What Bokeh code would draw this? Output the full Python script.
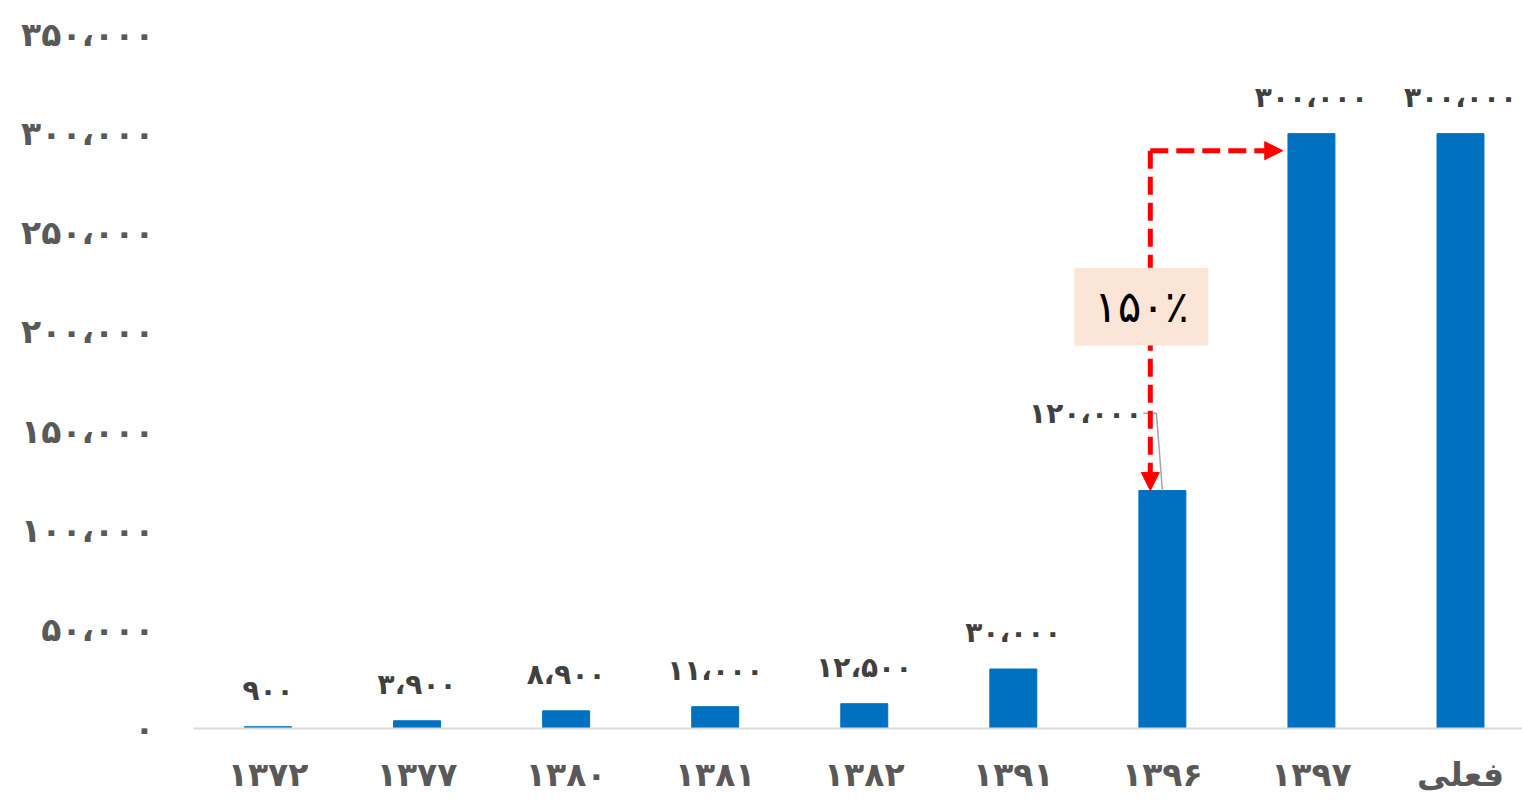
from bokeh.plotting import figure
from bokeh.models import Range1d, FixedTicker, Arrow, NormalHead, ColumnDataSource
from bokeh.core.properties import value
from bokeh.embed import file_html
from bokeh.resources import INLINE

categories = ["۱۳۷۲", "۱۳۷۷", "۱۳۸۰", "۱۳۸۱", "۱۳۸۲", "۱۳۹۱", "۱۳۹۶", "۱۳۹۷", "فعلی"]
values = [900, 3900, 8900, 11000, 12500, 30000, 120000, 300000, 300000]
y_ticks = [0, 50000, 100000, 150000, 200000, 250000, 300000, 350000]

FA_DIGITS = str.maketrans("0123456789", "۰۱۲۳۴۵۶۷۸۹")


def fa(n):
    return f"{n:,}".replace(",", "،").translate(FA_DIGITS)


FONT = "DejaVu Sans"
GREY = "#595959"
BAR = "#0070C0"

xs = list(range(len(categories)))
p = figure(width=1522, height=798,
           x_range=Range1d(-0.5, 8.416), y_range=Range1d(0, 350000),
           output_backend="svg", toolbar_location=None,
           min_border_left=193, min_border_right=0, min_border_top=34,
           min_border_bottom=70)
p.outline_line_color = None
p.grid.visible = False
p.background_fill_color = "white"

bw = 0.315
p.vbar(x=xs, top=values, width=bw, color=BAR)

# y axis
p.yaxis.ticker = FixedTicker(ticks=y_ticks)
p.yaxis.major_label_overrides = {t: fa(t) for t in y_ticks}
p.yaxis.axis_line_color = None
p.yaxis.major_tick_line_color = None
p.yaxis.minor_tick_line_color = None
p.yaxis.major_label_text_font = FONT
p.yaxis.major_label_text_font_style = "bold"
p.yaxis.major_label_text_font_size = "33px"
p.yaxis.major_label_text_color = GREY
p.yaxis.major_label_standoff = 33

# x axis
p.xaxis.ticker = FixedTicker(ticks=xs)
p.xaxis.major_label_overrides = {i: c for i, c in enumerate(categories)}
p.xaxis.axis_line_color = "#D9D9D9"
p.xaxis.axis_line_width = 2
p.xaxis.major_tick_line_color = None
p.xaxis.minor_tick_line_color = None
p.xaxis.major_label_text_font = FONT
p.xaxis.major_label_text_font_style = "bold"
p.xaxis.major_label_text_font_size = "33px"
p.xaxis.major_label_text_color = GREY
p.xaxis.major_label_standoff = 20

# data labels (all but the 1396 bar, which has a leader line)
i96 = categories.index("۱۳۹۶")
i97 = categories.index("۱۳۹۷")
lab_idx = [i for i in xs if i != i96]
src = ColumnDataSource(dict(x=[xs[i] for i in lab_idx],
                            y=[values[i] for i in lab_idx],
                            t=[fa(values[i]) for i in lab_idx]))
p.text(x="x", y="y", text="t", source=src, text_align="center",
       text_baseline="bottom", y_offset=-20, text_font=value(FONT),
       text_font_style="bold", text_font_size="28px", text_color="#404040")

# 1396 label with leader line
lab_y = values[i96] + 39000
p.text(x=[i96 - 0.135], y=[lab_y], text=[fa(values[i96])], text_align="right",
       text_baseline="middle", text_font=value(FONT), text_font_style="bold",
       text_font_size="28px", text_color="#404040")
p.line(x=[i96 - 0.128, i96 - 0.04, i96], y=[lab_y, lab_y, values[i96]],
       line_color="#A6A6A6", line_width=1.5)

# red dashed arrows
ax = i96 - 0.081
top_y = 291400
p.add_layout(Arrow(x_start=ax, y_start=top_y, x_end=ax, y_end=values[i96],
                   line_color="red", line_width=5, line_dash="18 8",
                   end=NormalHead(size=18, fill_color="red", line_color="red")))
p.add_layout(Arrow(x_start=ax, y_start=top_y, x_end=i97 - bw / 2 - 0.035, y_end=top_y,
                   line_color="red", line_width=5, line_dash="18 8",
                   end=NormalHead(size=18, fill_color="red", line_color="red")))

# percentage box
pct = round((values[i97] - values[i96]) / values[i96] * 100)
bx, by = i96 - 0.141, 212750
box = p.rect(x=[bx], y=[by], width=0.9, height=39300, fill_color="#FBE5D6",
             line_color=None)
box.level = "overlay"
t = p.text(x=[bx], y=[by], text=[str(pct).translate(FA_DIGITS) + "٪"],
           text_align="center", text_baseline="middle", text_font=value(FONT),
           text_font_size="44px", text_color="black")
t.level = "overlay"

open("out.html", "w").write(file_html(p, INLINE))
